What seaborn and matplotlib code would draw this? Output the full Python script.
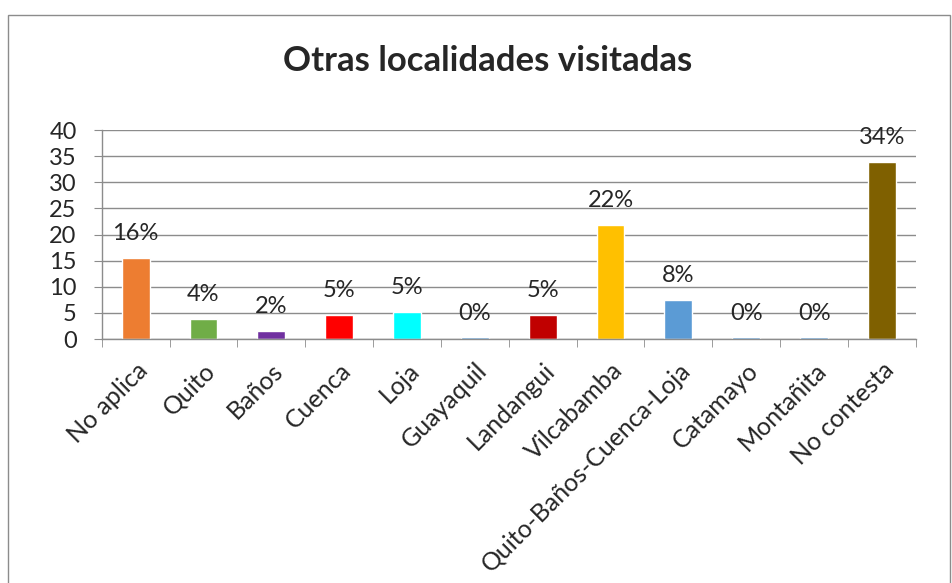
import numpy as np
import pandas as pd
import seaborn as sns
import matplotlib.pyplot as plt
from matplotlib.patches import Rectangle
from matplotlib.ticker import FixedLocator

categories = ["No aplica", "Quito", "Baños", "Cuenca", "Loja", "Guayaquil", "Landangui",
              "Vilcabamba", "Quito-Baños-Cuenca-Loja", "Catamayo", "Montañita", "No contesta"]
values = [15.6, 3.8, 1.6, 4.6, 5.2, 0.3, 4.6, 21.8, 7.5, 0.3, 0.3, 33.9]
pct_labels = ["16%", "4%", "2%", "5%", "5%", "0%", "5%", "22%", "8%", "0%", "0%", "34%"]
colors = ["#ED7D31", "#70AD47", "#7030A0", "#FF0000", "#00FFFF", "#5B9BD5", "#C00000",
          "#FFC000", "#5B9BD5", "#5B9BD5", "#5B9BD5", "#7F6000"]

sns.set_style("white")
plt.rcParams['font.family'] = ['Lato', 'DejaVu Sans']

df = pd.DataFrame({"localidad": categories, "valor": values})

fig = plt.figure(figsize=(9.53, 5.83), dpi=100)
ax = fig.add_axes([0.1067, 0.4185, 0.8543, 0.3585])

sns.barplot(data=df, x="localidad", y="valor", hue="localidad", palette=colors,
            width=0.41, legend=False, ax=ax, saturation=1)

ax.set_ylim(0, 40)
ax.set_xlim(-0.5, len(categories) - 0.5)
ax.set_yticks(np.arange(0, 41, 5))
ax.yaxis.grid(True, color="#8c8c8c", linewidth=1)
ax.set_axisbelow(True)
ax.set_xlabel("")
ax.set_ylabel("")

for s in ["top", "right"]:
    ax.spines[s].set_visible(False)
for s in ["left", "bottom"]:
    ax.spines[s].set_color("#8c8c8c")
    ax.spines[s].set_linewidth(1)

ax.tick_params(axis="y", length=6, color="#8c8c8c", labelsize=17, pad=12, left=True)
ax.tick_params(axis="x", which="major", length=0, labelsize=18, pad=14)
ax.xaxis.set_minor_locator(FixedLocator(np.arange(-0.5, len(categories), 1)))
ax.tick_params(axis="x", which="minor", length=6, color="#8c8c8c", bottom=True)
ax.set_xticks(range(len(categories)))
ax.set_xticklabels(categories, rotation=45, ha="right", rotation_mode="anchor")

for i, (v, lab) in enumerate(zip(values, pct_labels)):
    ax.annotate(lab, (i, v), xytext=(0, 10), textcoords="offset points",
                ha="center", va="bottom", fontsize=17)

fig.text(0.512, 0.895, "Otras localidades visitadas", ha="center", va="center",
         fontsize=25, fontweight="bold")

fig.patches.append(Rectangle((8 / 953, -0.1), (950 - 8) / 953, 1 - 15 / 583 + 0.1,
                             transform=fig.transFigure, fill=False,
                             edgecolor="#8c8c8c", linewidth=1))

fig.savefig("out.png", dpi=100)
